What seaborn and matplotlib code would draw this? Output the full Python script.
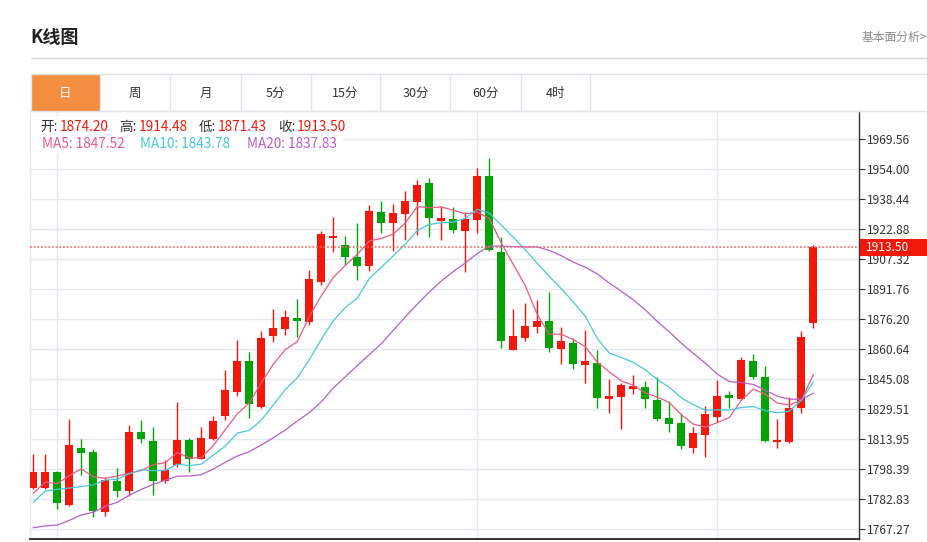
import numpy as np
import pandas as pd
import matplotlib
matplotlib.use('Agg')
import matplotlib.pyplot as plt
import matplotlib.transforms as mtransforms
from matplotlib.patches import Rectangle
from matplotlib.lines import Line2D
import seaborn as sns

# daily candles (open / high / low / close)
opens = [1788.85, 1788.85, 1797.0, 1779.7, 1809.4, 1807.2, 1776.1, 1792.3, 1787.0, 1817.9,
         1813.1, 1792.2, 1800.5, 1813.4, 1803.7, 1814.1, 1826.0, 1838.6, 1854.4, 1830.9,
         1867.7, 1871.3, 1876.9, 1874.8, 1895.7, 1918.2, 1914.6, 1908.5, 1903.9, 1931.9,
         1926.1, 1930.7, 1936.9, 1946.7, 1927.3, 1928.2, 1922.0, 1927.5, 1950.5, 1911.3,
         1860.4, 1866.7, 1872.2, 1875.3, 1860.9, 1863.9, 1852.6, 1853.5, 1835.0, 1835.9,
         1840.2, 1841.2, 1834.3, 1825.0, 1822.2, 1809.6, 1816.3, 1825.7, 1836.9, 1834.7,
         1854.6, 1846.3, 1812.4, 1812.7, 1830.2, 1874.20]
highs = [1806.3, 1806.3, 1797.7, 1824.5, 1814.1, 1808.8, 1794.2, 1799.1, 1821.2, 1824.0,
         1820.5, 1803.2, 1833.3, 1814.8, 1820.3, 1826.0, 1850.0, 1865.3, 1859.2, 1870.1,
         1881.7, 1880.9, 1886.7, 1901.8, 1922.0, 1929.1, 1919.3, 1926.1, 1935.3, 1937.6,
         1935.9, 1942.6, 1948.3, 1949.3, 1935.0, 1934.6, 1931.9, 1954.5, 1959.7, 1918.7,
         1881.4, 1884.5, 1886.2, 1890.2, 1872.2, 1866.3, 1870.6, 1860.3, 1845.4, 1843.3,
         1847.5, 1844.4, 1846.1, 1833.8, 1827.8, 1820.2, 1831.2, 1844.7, 1839.0, 1856.5,
         1858.4, 1852.0, 1824.3, 1836.1, 1870.3, 1914.48]
lows = [1788.2, 1788.3, 1777.6, 1779.3, 1795.6, 1773.8, 1774.3, 1783.9, 1784.5, 1812.0,
        1784.9, 1791.4, 1799.6, 1797.1, 1803.5, 1813.6, 1824.1, 1836.6, 1825.2, 1830.3,
        1864.4, 1867.9, 1867.2, 1873.4, 1894.0, 1911.1, 1904.4, 1896.7, 1901.4, 1921.0,
        1911.6, 1917.3, 1919.9, 1918.7, 1917.2, 1920.8, 1900.9, 1921.1, 1911.6, 1861.5,
        1860.4, 1864.9, 1869.1, 1859.1, 1852.9, 1850.4, 1843.3, 1830.3, 1827.7, 1819.1,
        1837.4, 1830.3, 1823.6, 1817.6, 1808.9, 1806.8, 1804.9, 1822.9, 1830.0, 1834.3,
        1845.4, 1812.7, 1809.6, 1812.0, 1827.8, 1871.43]
closes = [1797.0, 1797.0, 1781.1, 1811.0, 1807.0, 1776.6, 1792.8, 1787.3, 1817.9, 1814.0,
          1792.2, 1797.9, 1813.6, 1803.7, 1814.8, 1823.4, 1839.4, 1854.4, 1832.3, 1866.7,
          1871.8, 1877.2, 1875.3, 1897.3, 1920.3, 1919.6, 1908.4, 1903.7, 1932.4, 1926.3,
          1931.2, 1937.6, 1946.0, 1928.9, 1928.7, 1922.7, 1928.2, 1950.5, 1912.1, 1864.9,
          1867.4, 1872.9, 1875.5, 1861.5, 1865.1, 1853.2, 1854.4, 1835.4, 1836.3, 1842.0,
          1841.6, 1834.7, 1824.6, 1821.9, 1810.5, 1817.4, 1826.9, 1836.4, 1835.2, 1855.2,
          1846.5, 1813.1, 1813.8, 1830.3, 1866.9, 1913.50]

# moving averages before a full window is visible (earlier closes not shown)
ma5_head = [1785.9, 1791.8, 1790.9, 1795.1]
ma10_head = [1781.3, 1787.1, 1788.0, 1788.7, 1789.4, 1790.4, 1792.8, 1793.2, 1796.1]
ma20_head = [1768.1, 1769.0, 1769.5, 1771.9, 1774.7, 1776.1, 1779.2, 1781.3, 1784.9, 1788.0,
             1790.6, 1792.8, 1794.8, 1794.9, 1795.6, 1798.5, 1802.0, 1805.3, 1807.5]

ytick_labels = ['1767.27', '1782.83', '1798.39', '1813.95', '1829.51', '1845.08', '1860.64',
                '1876.20', '1891.76', '1907.32', '1922.88', '1938.44', '1954.00', '1969.56']
month_starts = [2, 37, 57]
tabs = ['日', '周', '月', '5分', '15分', '30分', '60分', '4时']

UP, DOWN = '#f2190c', '#06a306'
MA_COLORS = {'ma5': '#ec5a86', 'ma10': '#45c8dc', 'ma20': '#b65ec9'}
GRID = '#e3e8ee'

df = pd.DataFrame({'open': opens, 'high': highs, 'low': lows, 'close': closes})
df['idx'] = np.arange(len(df))
for n, head in [(5, ma5_head), (10, ma10_head), (20, ma20_head)]:
    ma = df['close'].rolling(n).mean().to_numpy()
    ma[:len(head)] = head
    df[f'ma{n}'] = ma

sns.set_style('white')
plt.rcParams['font.family'] = ['Noto Sans CJK SC', 'DejaVu Sans']

W, H = 928, 542
fig = plt.figure(figsize=(W / 100, H / 100), dpi=100)
px = mtransforms.Affine2D().scale(1 / W, -1 / H).translate(0, 1) + fig.transFigure

ax = fig.add_axes([30.5 / W, 1 - 539.3 / H, (859 - 30.5) / W, (539.3 - 110.5) / H])

# candles
colors = np.where(df['close'] >= df['open'], UP, DOWN)
ax.vlines(df['idx'], df['low'], df['high'], colors=colors, lw=1.0, zorder=2)
body = (df['close'] - df['open']).abs().clip(lower=0.6)
ax.bar(df['idx'], body, bottom=np.minimum(df['open'], df['close']), width=0.68,
       color=colors, linewidth=0, zorder=3)

for col, c in MA_COLORS.items():
    sns.lineplot(x=df['idx'], y=df[col], ax=ax, color=c, lw=0.9, zorder=4)

ax.axhline(closes[-1], color='#f26666', lw=1.1, ls=(0, (1.2, 1.2)), zorder=5)

ax.set_xlim(-0.23, 68.8)
ax.set_ylim(1762.08, 1984.5)
ax.set_xlabel('')
ax.set_ylabel('')
ax.set_xticks([])
ax.set_yticks([float(t) for t in ytick_labels])
ax.set_yticklabels(ytick_labels)
ax.yaxis.tick_right()
ax.tick_params(axis='y', length=4, width=0.8, color='#333333', labelsize=8.7,
               labelcolor='#333333', pad=2)
ax.grid(axis='y', color=GRID, lw=1)
for m in month_starts:
    ax.axvline(m, color=GRID, lw=1, zorder=0)
ax.set_axisbelow(True)
for side in ['left', 'top']:
    ax.spines[side].set_color(GRID)
    ax.spines[side].set_linewidth(1)
ax.spines['right'].set_color('#333333')
ax.spines['right'].set_linewidth(1)
ax.spines['bottom'].set_color('#222222')
ax.spines['bottom'].set_linewidth(1.3)

# last price tag on the axis
tag = mtransforms.blended_transform_factory(fig.transFigure, ax.transData)
fig.add_artist(Rectangle((860 / W, closes[-1] - 4.5), 68 / W, 9.0, transform=tag,
                         facecolor=UP, edgecolor='none', zorder=2))
fig.text(866 / W, closes[-1], f'{closes[-1]:.2f}', transform=tag, color='white',
         fontsize=8.7, va='center', zorder=3)

# page header and period tabs
fig.text(30 / W, 1 - 38 / H, 'K线图', fontsize=13, fontweight='bold', color='#222222', va='center')
fig.text(862 / W, 1 - 37 / H, '基本面分析>', fontsize=8.5, color='#888888', va='center')
fig.add_artist(Line2D([30.8, W], [58.3, 58.3], transform=px, color='#d8d8d8', lw=1))

edges = [30.8, 100, 170.5, 240.8, 310.6, 380.5, 450.3, 520.7, 590.5]
fig.add_artist(Rectangle((edges[0], 74), edges[1] - edges[0], 36.5, transform=px,
                         facecolor='#f38d3f', edgecolor='none', zorder=1))
fig.add_artist(Line2D([30.8, W], [74, 74], transform=px, color='#e0e4ea', lw=1))
fig.add_artist(Line2D([30.8, W], [110.5, 110.5], transform=px, color='#e0e4ea', lw=1))
for e in edges:
    fig.add_artist(Line2D([e, e], [74, 110.5], transform=px, color='#e0e4ea', lw=1))
for i, t in enumerate(tabs):
    cx = (edges[i] + edges[i + 1]) / 2
    fig.text(cx / W, 1 - 93 / H, t, fontsize=9, ha='center', va='center',
             color='white' if i == 0 else '#333333')

# OHLC / MA readout in the top-left corner of the chart
fig.add_artist(Rectangle((31.5, 116), 312, 37, transform=px, facecolor='white',
                         edgecolor='none', zorder=1))
last = df.iloc[-1]
readout = [('开:', last['open'], 40.7, 59.3), ('高:', last['high'], 119.3, 138.3),
           ('低:', last['low'], 199, 217.3), ('收:', last['close'], 278.3, 296.7)]
for lab, val, x0, x1 in readout:
    fig.text(x0 / W, 1 - 127 / H, lab, fontsize=9.8, color='#333333', va='center')
    fig.text(x1 / W, 1 - 127 / H, f'{val:.2f}', fontsize=9.8, color=UP, va='center')
for (col, c), x0 in zip(MA_COLORS.items(), [41.7, 140, 247.3]):
    fig.text(x0 / W, 1 - 144.5 / H, f'{col.upper()}: {last[col]:.2f}', fontsize=9.8,
             color=c, va='center')

fig.savefig('out.png', dpi=100)
